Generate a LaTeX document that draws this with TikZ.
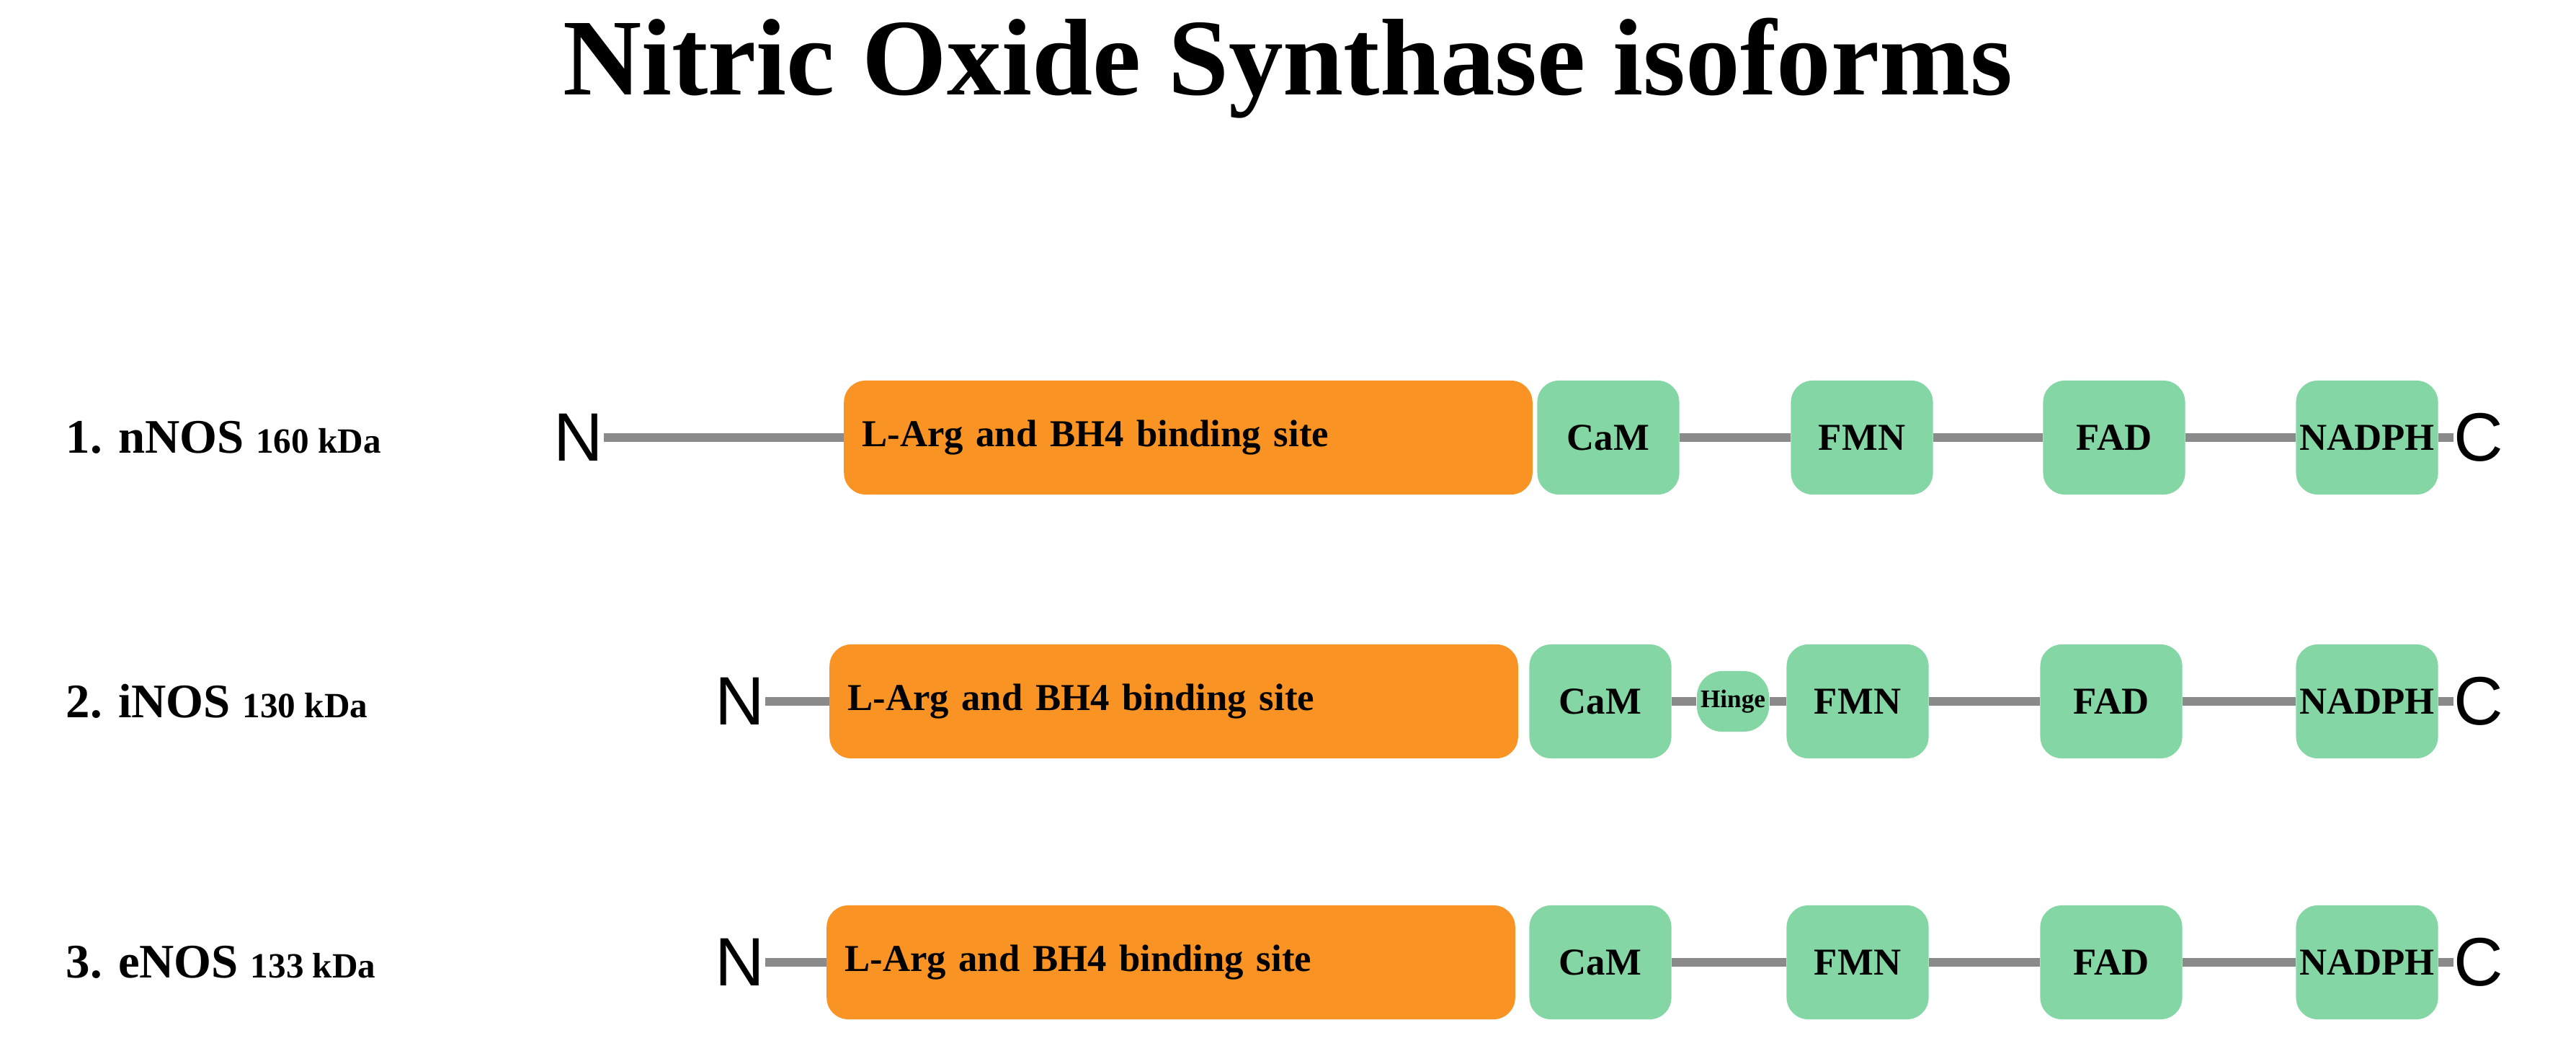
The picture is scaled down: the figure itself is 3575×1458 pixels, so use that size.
\documentclass[tikz,border=0pt]{standalone}
\usepackage{fontspec}
\setmainfont{Liberation Serif}
\newfontfamily\endfont{Liberation Sans}
\definecolor{argorange}{HTML}{F99323}
\definecolor{domgreen}{HTML}{84D6A5}
\definecolor{linkgray}{HTML}{8A8A8A}
\usetikzlibrary{positioning}

\tikzset{
  link/.style={draw=linkgray, line width=0.12cm},
  argbox/.style={fill=argorange, rounded corners=0.3cm, minimum height=1.58cm,
    text width=9.05cm, inner xsep=0.25cm, align=left,
    font=\bfseries\fontsize{15}{17}\selectfont},
  dom/.style={fill=domgreen, rounded corners=0.3cm, minimum height=1.58cm,
    minimum width=1.97cm, inner sep=0pt, font=\bfseries\fontsize{15}{17}\selectfont},
  hinge/.style={fill=domgreen, rounded corners=0.35cm, minimum height=0.84cm,
    minimum width=1.0cm, inner sep=0pt, font=\bfseries\fontsize{10}{12}\selectfont},
  term/.style={inner sep=0pt, font=\endfont\fontsize{27}{30}\selectfont},
  rowlabel/.style={anchor=west, inner sep=0pt, font=\bfseries\fontsize{19}{22}\selectfont},
}

\begin{document}
\begin{tikzpicture}[x=0.01cm, y=-0.01cm]
  % Page frame in pixel units, y downward
  \useasboundingbox (0,0) rectangle (3575,1458);

  \node (title) at (1787,95) {\bfseries\fontsize{43}{48}\selectfont Nitric Oxide Synthase isoforms};

  % 1. nNOS
  \node[rowlabel] (lab1) at (91,607) {1. nNOS {\fontsize{14}{16}\selectfont 160 kDa}};
  \node[term] (n1) at (803,607) {N};
  \node[argbox] (arg1) at (1649,607) {L-Arg and BH4 binding site};
  \node[dom] (cam1) at (2232,607) {CaM};
  \node[dom] (fmn1) at (2584,607) {FMN};
  \node[dom] (fad1) at (2934,607) {FAD};
  \node[dom] (nad1) at (3285,607) {NADPH};
  \node[term] (c1) at (3440,607) {C};

  % 2. iNOS
  \node[rowlabel] (lab2) at (91,973) {2. iNOS {\fontsize{14}{16}\selectfont 130 kDa}};
  \node[term] (n2) at (1027,973) {N};
  \node[argbox] (arg2) at (1629,973) {L-Arg and BH4 binding site};
  \node[dom] (cam2) at (2221,973) {CaM};
  \node[hinge] (hng2) at (2405,973) {Hinge};
  \node[dom] (fmn2) at (2578,973) {FMN};
  \node[dom] (fad2) at (2930,973) {FAD};
  \node[dom] (nad2) at (3285,973) {NADPH};
  \node[term] (c2) at (3440,973) {C};

  % 3. eNOS
  \node[rowlabel] (lab3) at (91,1335) {3. eNOS {\fontsize{14}{16}\selectfont 133 kDa}};
  \node[term] (n3) at (1027,1335) {N};
  \node[argbox] (arg3) at (1625,1335) {L-Arg and BH4 binding site};
  \node[dom] (cam3) at (2221,1335) {CaM};
  \node[dom] (fmn3) at (2578,1335) {FMN};
  \node[dom] (fad3) at (2930,1335) {FAD};
  \node[dom] (nad3) at (3285,1335) {NADPH};
  \node[term] (c3) at (3440,1335) {C};

  % Linkers between domains
  \draw[link] (n1) -- (arg1) (cam1) -- (fmn1) -- (fad1) -- (nad1) -- (c1);
  \draw[link] (n2) -- (arg2) (cam2) -- (hng2) -- (fmn2) -- (fad2) -- (nad2) -- (c2);
  \draw[link] (n3) -- (arg3) (cam3) -- (fmn3) -- (fad3) -- (nad3) -- (c3);
\end{tikzpicture}
\end{document}
